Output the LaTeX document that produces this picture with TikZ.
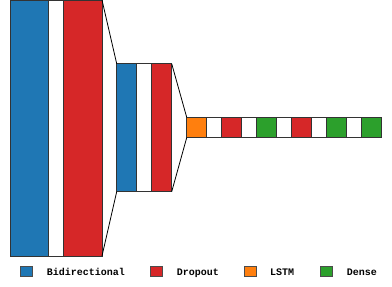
\documentclass[tikz,border=0pt]{standalone}
\usepackage{fontspec}
\setmonofont{Liberation Mono}
\definecolor{bidir}{HTML}{1F77B4}
\definecolor{drop}{HTML}{D62728}
\definecolor{lstm}{HTML}{FF7F0E}
\definecolor{dense}{HTML}{2CA02C}
\begin{document}
\begin{tikzpicture}[x=1pt,y=-1pt]
  \tikzstyle{layer}=[draw=black!80,line width=0.8pt,inner sep=0pt,outer sep=0pt,anchor=north west]
  \tikzstyle{key}=[draw=black!70,line width=0.8pt,inner sep=0pt,minimum width=12pt,minimum height=10pt,anchor=west]
  \tikzstyle{keytext}=[anchor=base west,inner sep=0pt,font=\ttfamily\bfseries\fontsize{10}{10}\selectfont]
  \useasboundingbox (0,0) rectangle (392,287);
  % first block
  \node[layer,fill=bidir,minimum width=38.5pt,minimum height=256pt] (B_1) at (10,0) {};
  \node[layer,fill=white,minimum width=15pt,minimum height=256pt] (W_1) at (48.5,0) {};
  \node[layer,fill=drop,minimum width=38.5pt,minimum height=256pt] (D_1) at (63.5,0) {};
  % second block
  \node[layer,fill=bidir,minimum width=20pt,minimum height=128pt] (B_2) at (116.7,63.7) {};
  \node[layer,fill=white,minimum width=15pt,minimum height=128pt] (W_2) at (136.7,63.7) {};
  \node[layer,fill=drop,minimum width=20pt,minimum height=128pt] (D_2) at (151.7,63.7) {};
  % third block
  \node[layer,fill=lstm,minimum width=20pt,minimum height=20.4pt] (L_1) at (186.7,117.3) {};
  \node[layer,fill=white,minimum width=15pt,minimum height=20.4pt] (W_3) at (206.7,117.3) {};
  \node[layer,fill=drop,minimum width=20pt,minimum height=20.4pt] (D_3) at (221.7,117.3) {};
  \node[layer,fill=white,minimum width=15pt,minimum height=20.4pt] (W_4) at (241.7,117.3) {};
  \node[layer,fill=dense,minimum width=20pt,minimum height=20.4pt] (N_1) at (256.7,117.3) {};
  \node[layer,fill=white,minimum width=15pt,minimum height=20.4pt] (W_5) at (276.7,117.3) {};
  \node[layer,fill=drop,minimum width=20pt,minimum height=20.4pt] (D_4) at (291.7,117.3) {};
  \node[layer,fill=white,minimum width=15pt,minimum height=20.4pt] (W_6) at (311.7,117.3) {};
  \node[layer,fill=dense,minimum width=20pt,minimum height=20.4pt] (N_2) at (326.7,117.3) {};
  \node[layer,fill=white,minimum width=15pt,minimum height=20.4pt] (W_7) at (346.7,117.3) {};
  \node[layer,fill=dense,minimum width=20pt,minimum height=20.4pt] (N_3) at (361.7,117.3) {};
  % funnel lines
  \draw[line width=0.8pt] (D_1.north east) -- (B_2.north west);
  \draw[line width=0.8pt] (D_1.south east) -- (B_2.south west);
  \draw[line width=0.8pt] (D_2.north east) -- (L_1.north west);
  \draw[line width=0.8pt] (D_2.south east) -- (L_1.south west);
  % legend
  \node[key,fill=bidir] (K_1) at (20,271.7) {};
  \node[keytext] (T_1) at (46.7,275.2) {Bidirectional};
  \node[key,fill=drop] (K_2) at (150,271.7) {};
  \node[keytext] (T_2) at (176.7,275.2) {Dropout};
  \node[key,fill=lstm] (K_3) at (244.3,271.7) {};
  \node[keytext] (T_3) at (270,275.2) {LSTM};
  \node[key,fill=dense] (K_4) at (320,271.7) {};
  \node[keytext] (T_4) at (346.7,275.2) {Dense};
\end{tikzpicture}
\end{document}
